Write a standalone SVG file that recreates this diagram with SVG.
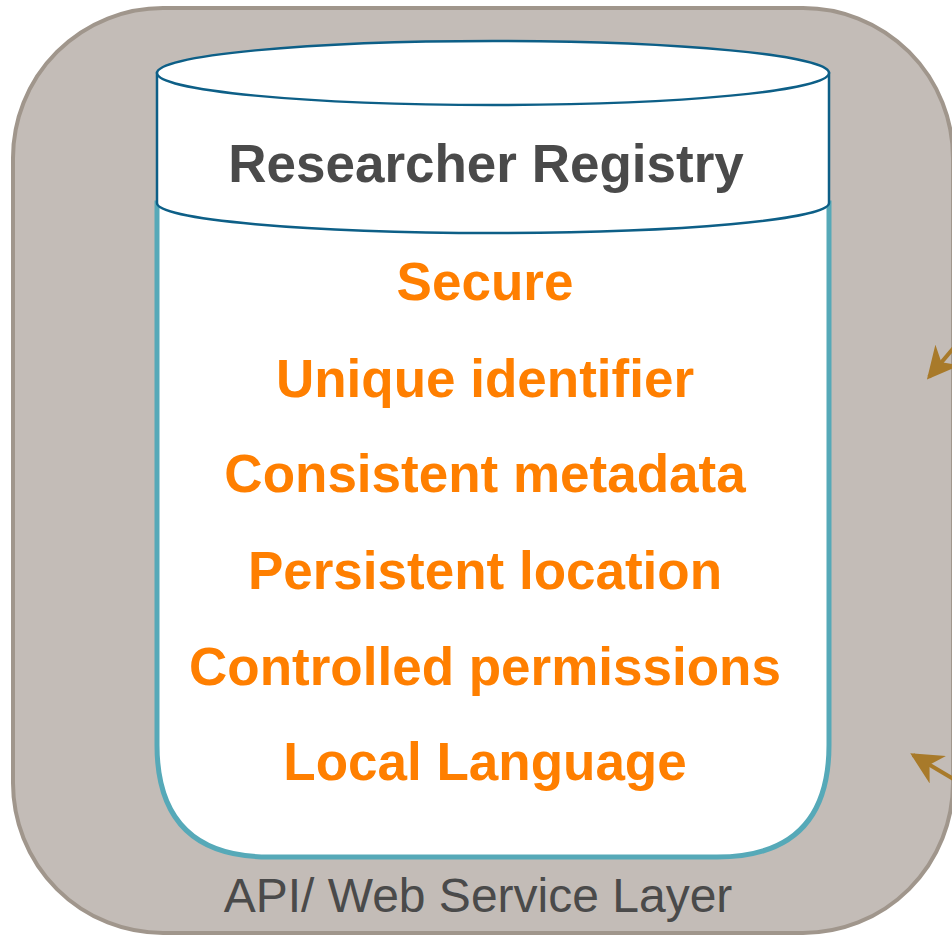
<svg xmlns="http://www.w3.org/2000/svg" width="952" height="937" viewBox="0 0 952 937">
<style>
.t{font-family:"Liberation Sans",Arial,sans-serif;text-anchor:middle}
.o{font-weight:bold;font-size:53px;fill:#ff7f00}
.arr{stroke:#a87a2a;stroke-width:4;fill:none}
</style>
<defs>
<marker id="ah" viewBox="0 0 10 10" refX="9" refY="5" markerWidth="8" markerHeight="8" orient="auto" markerUnits="strokeWidth">
<path d="M0,0 L10,5 L0,10 L3,5 Z" fill="#a87a2a"/>
</marker>
</defs>
<rect width="952" height="937" fill="#ffffff"/>
<g id="layer">
<rect x="13" y="8" width="940" height="925" rx="150" ry="150" fill="#c3bcb7" stroke="#a0968c" stroke-width="4"/>
<text class="t" x="478" y="912" font-size="48" fill="#4a4a4a">API/ Web Service Layer</text>
</g>
<g id="registry">
<path d="M157,203 L157,745 Q157,857 269,857 L717,857 Q829,857 829,745 L829,203 Z" fill="#ffffff" stroke="#56a9b8" stroke-width="5"/>
<path d="M157,73 L157,203 A336,30 0 0 0 829,203 L829,73 Z" fill="#ffffff" stroke="#0d5f87" stroke-width="2.5"/>
<ellipse cx="493" cy="73" rx="336" ry="32" fill="#ffffff" stroke="#0d5f87" stroke-width="2.5"/>
<text class="t" x="486" y="182" font-size="53" font-weight="bold" fill="#4a4a4a">Researcher Registry</text>
<text class="t o" x="485" y="300">Secure</text>
<text class="t o" x="485" y="397">Unique identifier</text>
<text class="t o" x="485" y="492">Consistent metadata</text>
<text class="t o" x="485" y="589">Persistent location</text>
<text class="t o" x="485" y="685">Controlled permissions</text>
<text class="t o" x="485" y="780">Local Language</text>
</g>
<g id="connectors">
<line class="arr" x1="962" y1="338" x2="929" y2="377" marker-end="url(#ah)"/>
<line class="arr" x1="962" y1="784" x2="913" y2="755" marker-end="url(#ah)"/>
</g>
</svg>
